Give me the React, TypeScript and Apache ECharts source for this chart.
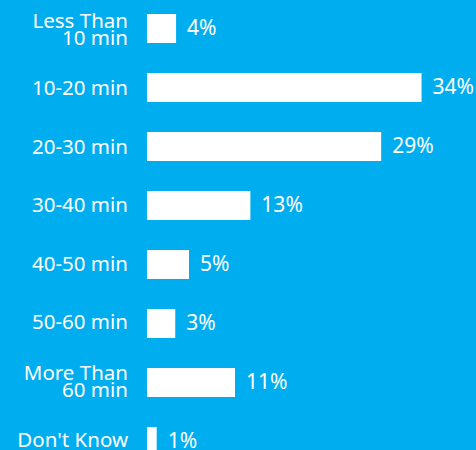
import React, { useEffect, useRef } from "react";
import * as echarts from "echarts";

const categories = [
  "Less Than\n10 min",
  "10-20 min",
  "20-30 min",
  "30-40 min",
  "40-50 min",
  "50-60 min",
  "More Than\n60 min",
  "Don't Know",
];
const values = [3.6, 34, 29, 12.8, 5.2, 3.5, 10.9, 1.2];
const labels = ["4%", "34%", "29%", "13%", "5%", "3%", "11%", "1%"];

export default function App() {
  const ref = useRef<HTMLDivElement>(null);
  useEffect(() => {
    if (!ref.current) return;
    const chart = echarts.init(ref.current, null, { renderer: "svg" });
    chart.setOption({
      animation: false,
      backgroundColor: "#00AEEF",
      textStyle: { fontFamily: "Noto Sans" },
      grid: [
        { left: 147, right: 6, top: 0, bottom: 0, containLabel: false },
        { left: 147, right: 6, top: -3, bottom: 3, containLabel: false },
      ],
      xAxis: [
        { type: "value", min: 0, max: 40, show: false, gridIndex: 0 },
        { type: "value", min: 0, max: 40, show: false, gridIndex: 1 },
      ],
      yAxis: [
        {
          type: "category",
          gridIndex: 0,
          inverse: true,
          data: categories,
          axisLine: { show: false },
          axisTick: { show: false },
          splitLine: { show: false },
          axisLabel: { show: false },
        },
        {
          type: "category",
          gridIndex: 1,
          inverse: true,
          data: categories,
          axisLine: { show: false },
          axisTick: { show: false },
          splitLine: { show: false },
          axisLabel: {
            color: "#ffffff",
            fontSize: 20.5,
            fontFamily: "Noto Sans",
            lineHeight: 17,
            margin: 19,
            align: "right",
          },
        },
      ],
      series: [
        {
          type: "bar",
          xAxisIndex: 0,
          yAxisIndex: 0,
          data: values,
          barWidth: 29,
          itemStyle: { color: "#ffffff" },
          label: {
            show: true,
            position: "right",
            distance: 11,
            offset: [0, -2],
            color: "#ffffff",
            fontSize: 21,
            fontFamily: "Noto Sans",
            formatter: (p: any) => labels[p.dataIndex],
          },
        },
      ],
    });
    return () => chart.dispose();
  }, []);
  return (
    <div style={{ position: "fixed", top: 0, left: 0, width: 476, height: 450, overflow: "hidden", background: "#00AEEF" }}>
      <div
        ref={ref}
        style={{ position: "absolute", top: -1, left: 0, width: 476, height: 472 }}
      />
    </div>
  );
}
